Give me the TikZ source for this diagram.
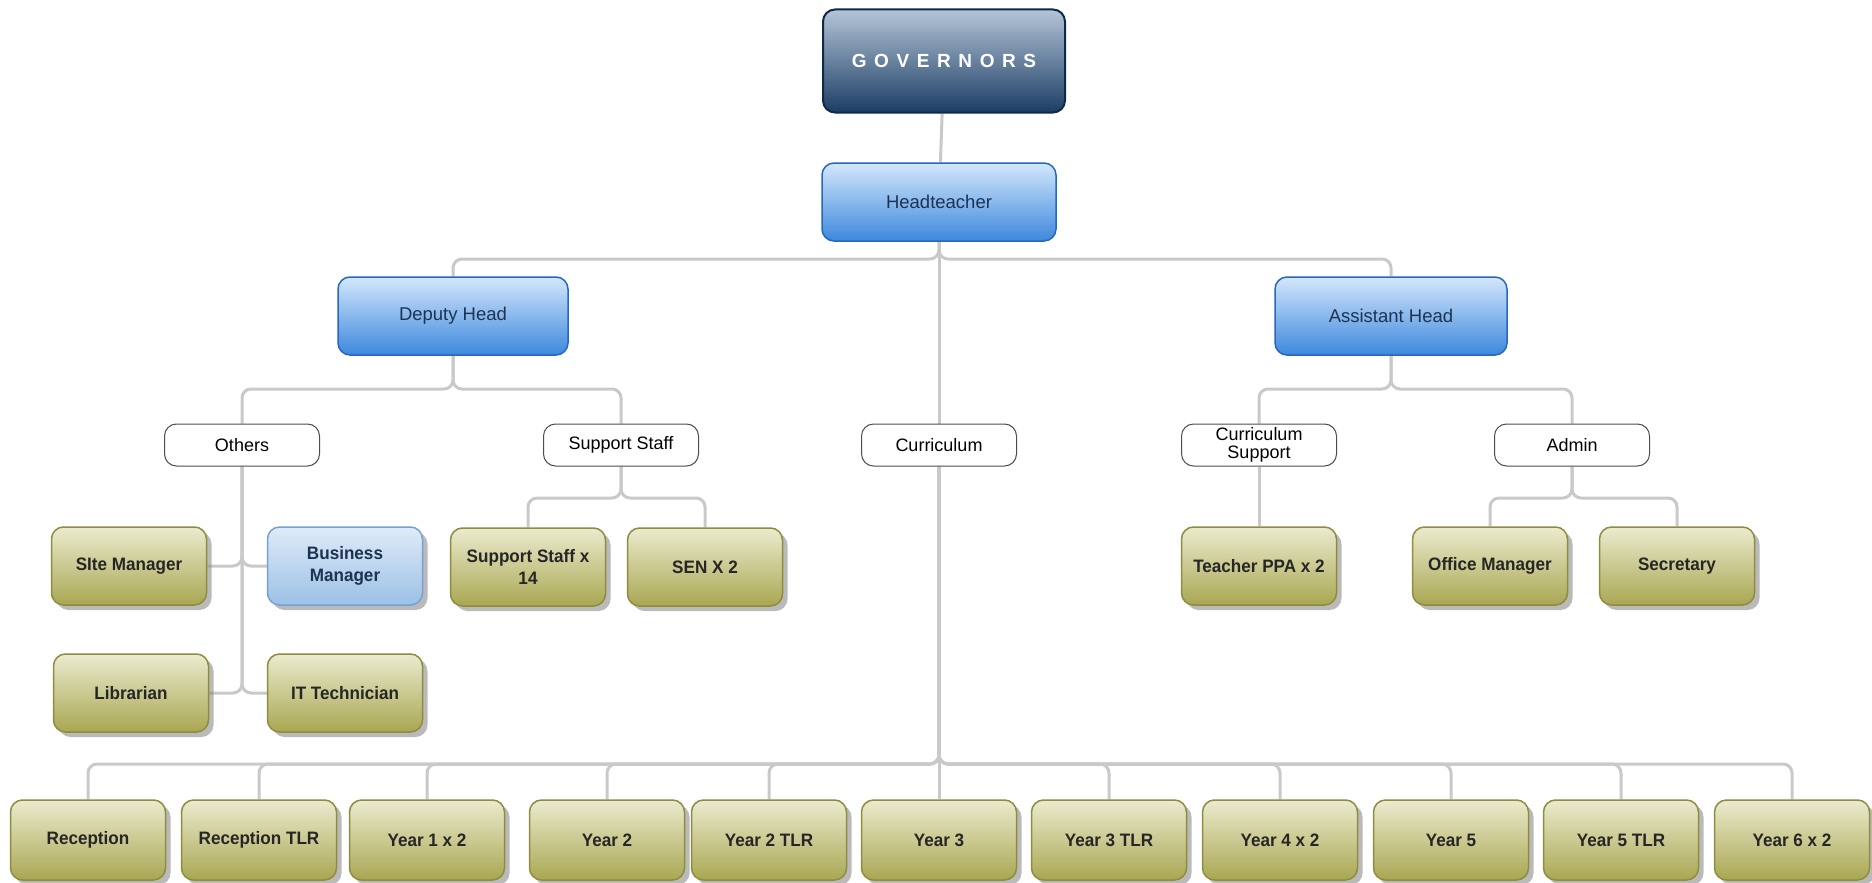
\documentclass[tikz,border=0pt]{standalone}
\usepackage{fontspec}
\setmainfont{Liberation Sans}
\newfontfamily\boxfont[FakeStretch=0.95]{Liberation Sans}
\newfontfamily\govfont[LetterSpace=40]{Liberation Sans}
\usetikzlibrary{shadows}
\usetikzlibrary{backgrounds}
\definecolor{olivetop}{HTML}{EBEBCF}
\definecolor{olivebot}{HTML}{A9A752}
\definecolor{oliveedge}{HTML}{8E8C3E}
\definecolor{bluetop}{HTML}{D3E7FB}
\definecolor{bluebot}{HTML}{3D88DD}
\definecolor{blueedge}{HTML}{2767BD}
\definecolor{bluetext}{HTML}{1E3352}
\definecolor{govtop}{HTML}{B4C5D8}
\definecolor{govbot}{HTML}{1C3D64}
\definecolor{govedge}{HTML}{0F2A47}
\definecolor{paletop}{HTML}{DFEBF8}
\definecolor{palebot}{HTML}{9CC0E6}
\definecolor{paleedge}{HTML}{76A2D3}
\definecolor{linegray}{HTML}{C9C9C9}

\begin{document}
\begin{tikzpicture}[line cap=round,line join=round,x=1pt,y=-1pt,
  conn/.style={draw=linegray,line width=3pt,rounded corners=9pt},
  govbox/.style={rounded corners=12pt,draw=govedge,line width=2pt,top color=govtop,bottom color=govbot,
    minimum width=242pt,minimum height=103pt,text=white,font=\govfont\bfseries\fontsize{19}{22}\selectfont},
  bluebox/.style={rounded corners=12pt,draw=blueedge,line width=1.5pt,top color=bluetop,bottom color=bluebot,
    minimum width=232pt,minimum height=78pt,text=bluetext,font=\fontsize{18.5}{22}\selectfont},
  whitebox/.style={rounded corners=12pt,draw=black!70,line width=1pt,fill=white,inner ysep=1pt,
    minimum width=155pt,minimum height=42pt,align=center,font=\fontsize{18}{18}\selectfont},
  olivebox/.style={rounded corners=12pt,draw=oliveedge,line width=1.5pt,top color=olivetop,bottom color=olivebot,
    minimum width=155pt,minimum height=78pt,align=center,text=black!85,
    font=\boxfont\bfseries\fontsize{18}{22}\selectfont,
    drop shadow={shadow xshift=5pt,shadow yshift=-5pt,fill=black!45,opacity=.6}},
  palebox/.style={olivebox,draw=paleedge,top color=paletop,bottom color=palebot,text=bluetext}]
\useasboundingbox (0,0) rectangle (1872,883);

%ylimmat
\node[govbox] (gov) at (944,61) {GOVERNORS};
\node[bluebox,minimum width=234pt] (head) at (939,202) {Headteacher};
\node[bluebox,minimum width=230pt] (dep) at (453,316) {Deputy Head};
\node[bluebox] (ass) at (1391,316) {Assistant Head};

%valkoiset
\node[whitebox] (oth) at (242,445) {Others};
\node[whitebox] (sup) at (621,445) {Support Staff};
\node[whitebox] (curr) at (939,445) {Curriculum};
\node[whitebox] (csup) at (1259,445) {Curriculum\\Support};
\node[whitebox] (adm) at (1572,445) {Admin};

%kolmas taso
\node[olivebox] (site) at (129,566) {SIte Manager};
\node[palebox] (busm) at (345,566) {Business\\Manager};
\node[olivebox] (lib) at (131,693) {Librarian};
\node[olivebox] (it) at (345,693) {IT Technician};
\node[olivebox] (sup14) at (528,567) {Support Staff x\\14};
\node[olivebox] (sen) at (705,567) {SEN X 2};
\node[olivebox] (ppa) at (1259,566) {Teacher PPA x 2};
\node[olivebox] (off) at (1490,566) {Office Manager};
\node[olivebox] (sec) at (1677,566) {Secretary};

%alarivi
\foreach \n/\x/\t in {rec/88/Reception,rectlr/259/Reception TLR,ya/427/Year 1 x 2,yb/607/Year 2,
  ybtlr/769/Year 2 TLR,yc/939/Year 3,yctlr/1109/Year 3 TLR,yd/1280/Year 4 x 2,ye/1451/Year 5,
  yetlr/1621/Year 5 TLR,yf/1792/Year 6 x 2}
  \node[olivebox,minimum height=80pt] (\n) at (\x,840) {\t};

%kiskot
\coordinate (hbus) at (0,259);
\coordinate (dbus) at (0,389);
\coordinate (sbus) at (0,498);
\coordinate (ybus) at (0,764);

\begin{scope}[on background layer]
\draw[conn] (gov) -- (head);
\draw[conn] (head.south) -- (head.south |- hbus) -| (dep.north);
\draw[conn] (head.south) -- (head.south |- hbus) -| (ass.north);
\draw[conn] (head) -- (curr);
\draw[conn] (dep.south) -- (dep.south |- dbus) -| (oth.north);
\draw[conn] (dep.south) -- (dep.south |- dbus) -| (sup.north);
\draw[conn] (ass.south) -- (ass.south |- dbus) -| (csup.north);
\draw[conn] (ass.south) -- (ass.south |- dbus) -| (adm.north);
%muut
\draw[conn] (oth.south) |- (site.east);
\draw[conn] (oth.south) |- (busm.west);
\draw[conn] (oth.south) |- (lib.east);
\draw[conn] (oth.south) |- (it.west);
\draw[conn] (sup.south) -- (sup.south |- sbus) -| (sup14.north);
\draw[conn] (sup.south) -- (sup.south |- sbus) -| (sen.north);
\draw[conn] (csup) -- (ppa);
\draw[conn] (adm.south) -- (adm.south |- sbus) -| (off.north);
\draw[conn] (adm.south) -- (adm.south |- sbus) -| (sec.north);
%opetus
\foreach \n in {rec,rectlr,ya,yb,ybtlr,yctlr,yd,ye,yetlr,yf}
  \draw[conn] (curr.south) -- (curr.south |- ybus) -| (\n.north);
\draw[conn] (curr) -- (yc);
\end{scope}
\end{tikzpicture}
\end{document}
